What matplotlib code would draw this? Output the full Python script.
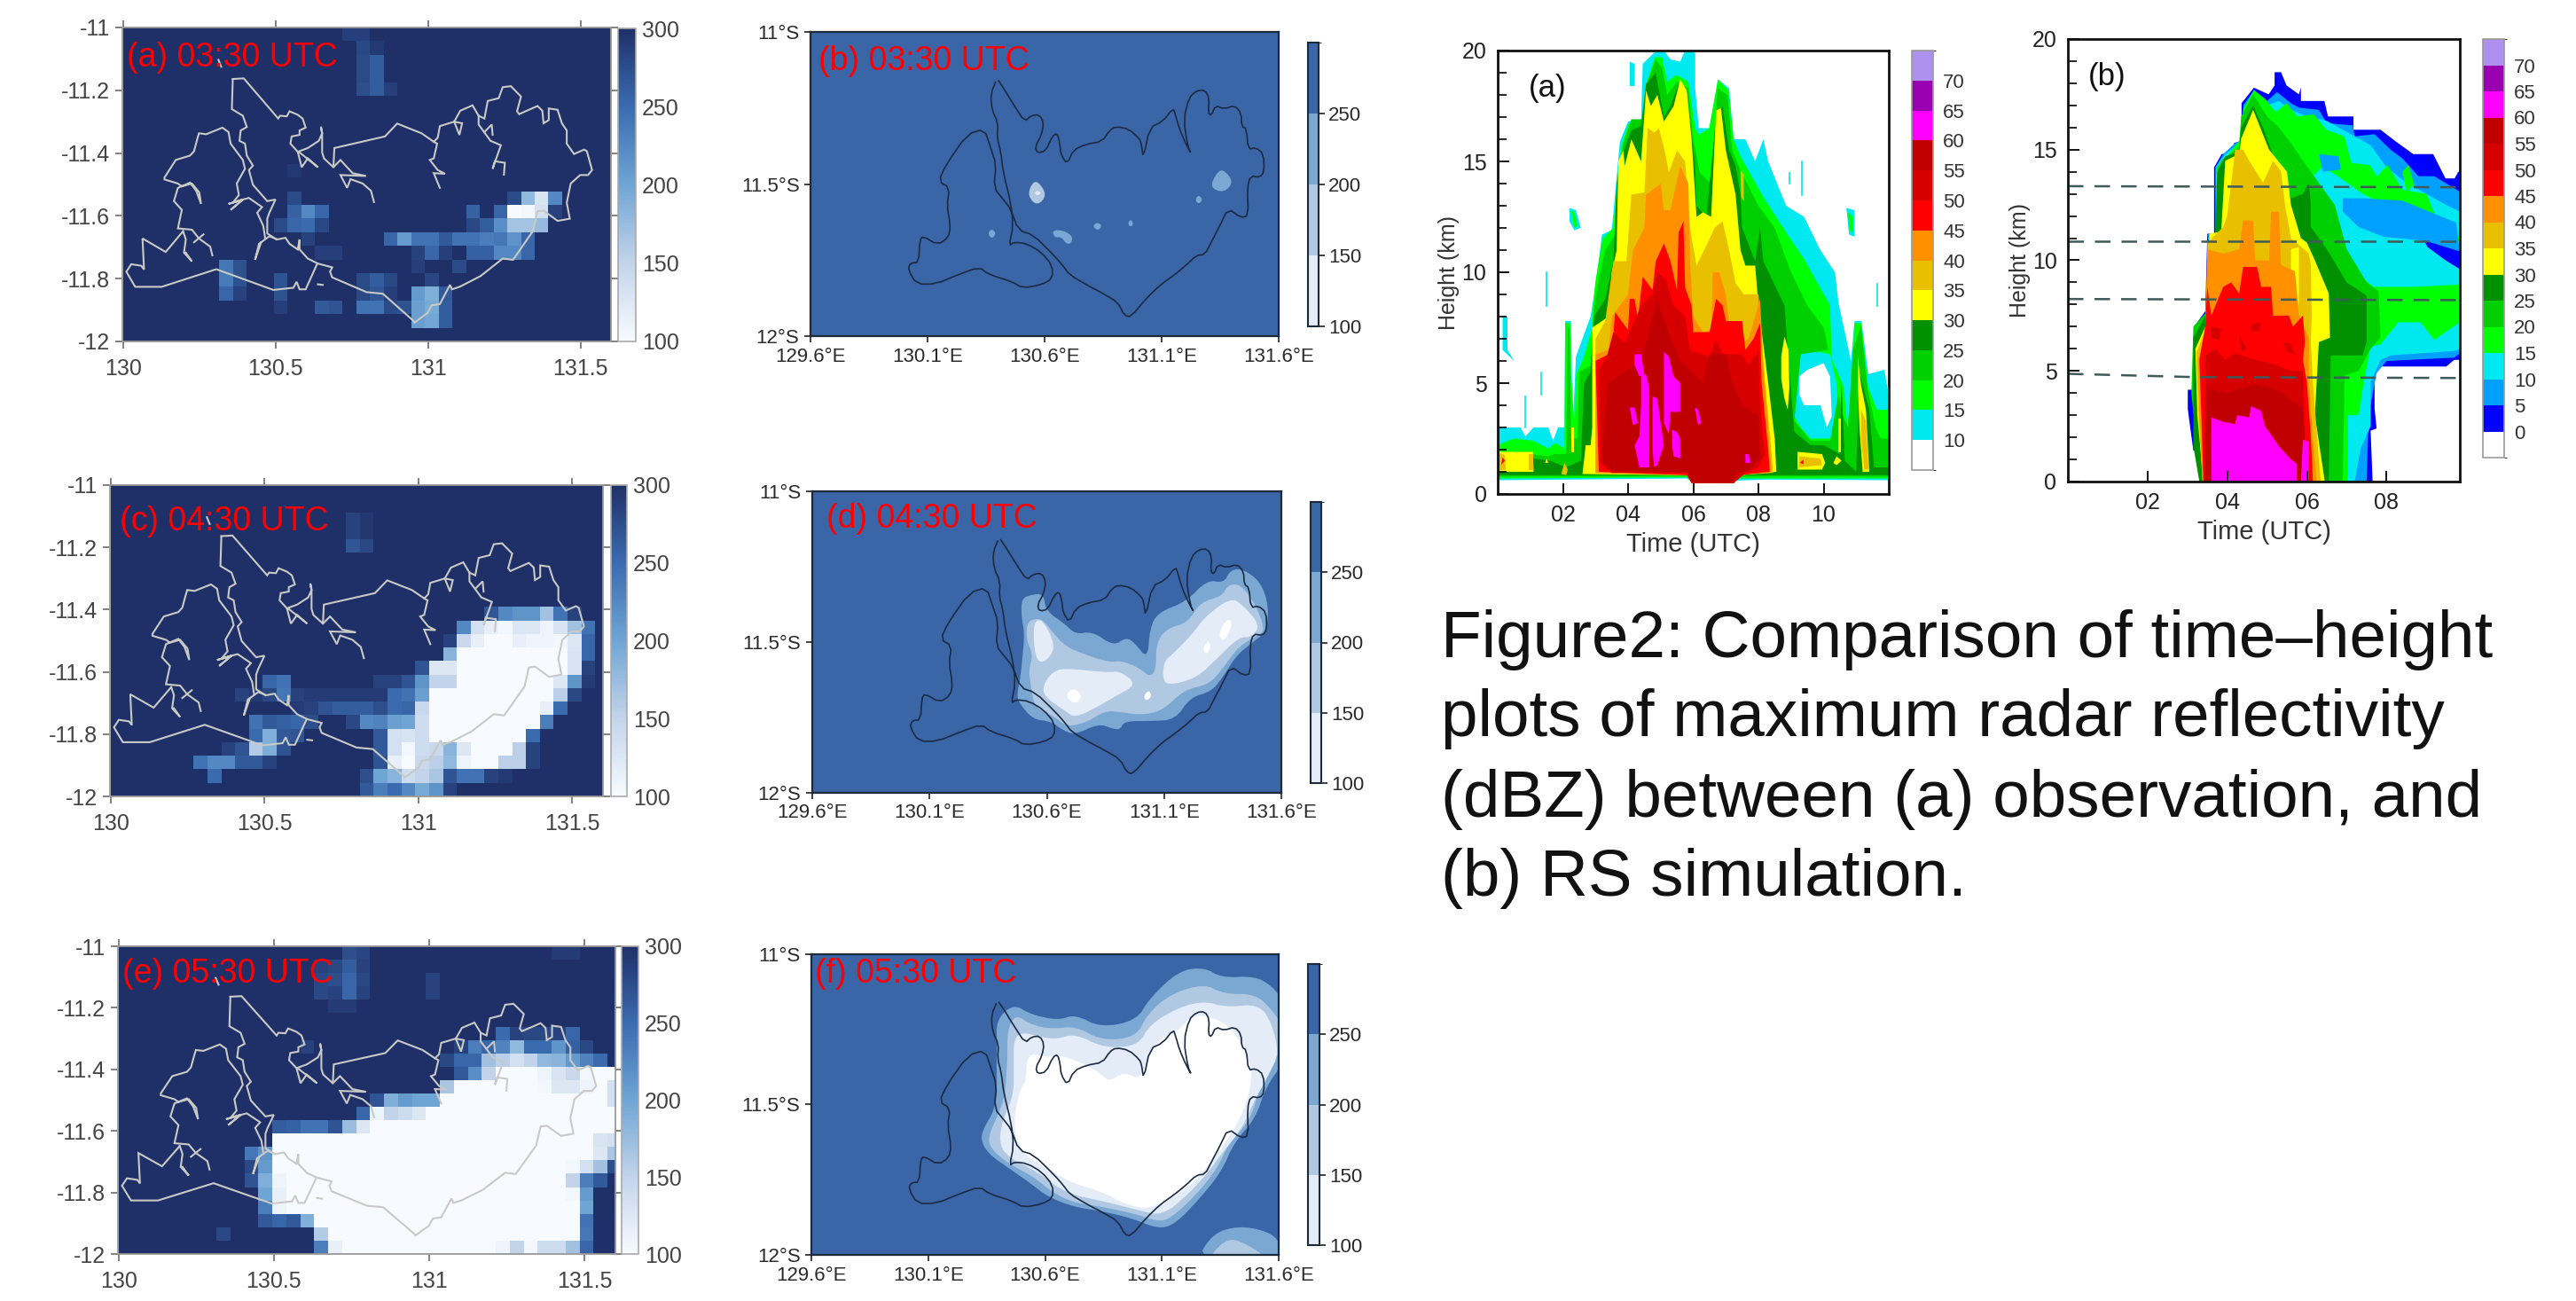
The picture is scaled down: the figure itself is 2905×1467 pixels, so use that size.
import numpy as np
import matplotlib
matplotlib.use('Agg')
from matplotlib import pyplot as plt
from matplotlib.colors import LinearSegmentedColormap, ListedColormap, BoundaryNorm, Normalize
from matplotlib.cm import ScalarMappable

W, H = 2905, 1467
SANS = ['Liberation Sans', 'DejaVu Sans']
NARROW = ['Liberation Sans Narrow', 'Liberation Sans', 'DejaVu Sans']

# ---------- observed brightness temperature cells, row: [(first col, values)] ----------
GRID_ROWS, GRID_COLS = 23, 36
OBS_0330 = {
    0: [(16, [288, 288])],
    1: [(17, [280, 292])],
    2: [(17, [278, 262])],
    3: [(17, [278, 262])],
    4: [(17, [275, 262, 288])],
    10: [(12, [292])],
    12: [(12, [278]), (28, [278, 180, 130, 225])],
    13: [(12, [258, 225, 255]), (25, [258]), (27, [255, 100, 105, 135, 285])],
    14: [(11, [278, 255, 250, 280]), (25, [280, 262, 220, 168, 168, 178])],
    15: [(13, [285]), (19, [255, 210, 245, 245, 265, 245, 245, 235, 240, 215, 255])],
    16: [(14, [288, 288]), (21, [285, 255, 288]), (25, [260, 260, 225, 225, 255])],
    17: [(7, [240, 272]), (21, [288]), (24, [278])],
    18: [(7, [238, 272]), (11, [270]), (17, [278, 262, 280]), (22, [282])],
    19: [(7, [255, 285]), (11, [272]), (17, [280, 268, 288]), (21, [210, 190, 265])],
    20: [(11, [288]), (14, [265, 270]), (17, [245, 245, 278, 272, 205, 195, 262])],
    21: [(21, [205, 198, 262])],
}
OBS_0430 = {
    2: [(17, [285, 293])],
    3: [(17, [285, 293])],
    4: [(17, [268, 280])],
    9: [(27, [268, 225, 215, 215, 170, 245, 285])],
    10: [(25, [225, 135, 115, 105, 125, 125, 110, 130, 170, 245])],
    11: [(24, [285, 145, 115, 100, 100, 115, 110, 110, 105, 125, 255])],
    12: [(24, [185, 100, 100, 100, 100, 100, 100, 100, 100, 130, 255])],
    13: [(22, [270, 125, 125, 100, 100, 100, 100, 100, 100, 100, 100, 130, 285])],
    14: [(11, [255, 245]), (19, [285, 285, 270, 215, 150, 150, 100, 100, 100, 100, 100, 100, 100, 125, 215, 290])],
    15: [(9, [285, 292, 280, 240, 285, 290, 290, 290, 290, 290, 290, 250, 245, 205]),
         (23, [100, 100, 100, 100, 100, 100, 100, 100, 100, 155, 280])],
    16: [(13, [290, 285, 270, 262, 262, 262, 275, 250, 255, 145]), (23, [100] * 8 + [115, 250])],
    17: [(10, [245, 265, 260, 255, 275]), (17, [280, 225, 230, 205, 200, 140]), (23, [100] * 8 + [235])],
    18: [(10, [250, 190, 265, 270]), (19, [265, 135, 130, 140]), (23, [100] * 7 + [250])],
    19: [(8, [285, 270, 160, 190, 270]), (19, [265, 135, 105, 140, 145, 185, 125, 100, 100, 100, 155, 285])],
    20: [(6, [245, 225, 225, 265, 265, 285]), (19, [270, 115, 100, 145, 155, 180, 110, 100, 100, 155, 155, 285])],
    21: [(7, [250]), (18, [275, 200, 185, 140, 150, 165, 270, 245, 245, 285, 292])],
    22: [(18, [265, 235, 250, 225, 195, 215, 285])],
}
OBS_0530 = {
    0: [(16, [275, 282]), (31, [290, 290])],
    1: [(14, [285, 280, 262, 285])],
    2: [(14, [280, 275, 255, 280]), (22, [285])],
    3: [(14, [280, 285, 255, 285]), (22, [285])],
    4: [(15, [290, 290])],
    6: [(27, [250, 285, 280, 280, 285, 255])],
    7: [(13, [285]), (24, [285, 235, 255, 230, 180, 250, 250, 215, 260, 280])],
    8: [(23, [280, 255, 255, 170, 155, 135, 150, 180, 185, 210, 230, 250])],
    9: [(24, [265, 220, 150, 100, 100, 100, 110, 130, 145, 105, 100, 100])],
    10: [(23, [165, 100, 100, 100, 100, 100, 100, 105, 125, 125, 110, 100, 135])],
    11: [(18, [270, 190, 210, 200, 200]), (23, [100] * 12 + [135])],
    12: [(17, [255, 110, 150, 140, 125]), (22, [100] * 14)],
    13: [(11, [262, 258, 245, 245, 270, 175, 125]), (18, [100] * 18)],
    14: [(11, [100] * 23 + [130, 135])],
    15: [(9, [240, 215]), (11, [100] * 23 + [125, 165])],
    16: [(9, [280, 210]), (11, [100] * 21 + [105, 135, 170, 275])],
    17: [(9, [270, 190, 110]), (12, [100] * 20 + [150, 235, 265])],
    18: [(10, [200, 115]), (12, [100] * 20 + [105, 210])],
    19: [(10, [235, 110]), (12, [100] * 21 + [200])],
    20: [(10, [265, 255, 265, 190]), (14, [100] * 19 + [245])],
    21: [(7, [280]), (14, [160]), (15, [100] * 18 + [240])],
    22: [(14, [235, 115]), (16, [100] * 11 + [110, 150, 105, 140, 140, 170, 255])],
}

# ---------- coast (lon, lat) ----------
COAST_GRAY = [
    [(130.360, -11.164), (130.396, -11.162), (130.509, -11.290), (130.515, -11.281), (130.537, -11.283),
     (130.546, -11.267), (130.573, -11.278), (130.589, -11.290), (130.599, -11.319), (130.579, -11.328),
     (130.579, -11.342), (130.553, -11.347), (130.549, -11.370), (130.573, -11.396), (130.606, -11.384),
     (130.642, -11.361), (130.653, -11.337), (130.649, -11.316), (130.653, -11.337), (130.653, -11.398),
     (130.659, -11.417), (130.690, -11.445), (130.693, -11.384), (130.859, -11.347), (130.899, -11.306),
     (130.979, -11.337), (131.019, -11.364), (131.032, -11.351), (131.039, -11.314), (131.086, -11.300),
     (131.106, -11.265), (131.146, -11.248), (131.166, -11.281), (131.185, -11.290), (131.196, -11.234),
     (131.232, -11.225), (131.245, -11.190), (131.272, -11.187), (131.305, -11.220), (131.292, -11.267),
     (131.299, -11.276), (131.359, -11.250), (131.375, -11.265), (131.379, -11.305), (131.396, -11.295),
     (131.396, -11.258), (131.425, -11.262), (131.439, -11.305), (131.455, -11.328), (131.455, -11.370),
     (131.479, -11.403), (131.512, -11.389), (131.521, -11.394), (131.538, -11.454), (131.525, -11.470),
     (131.499, -11.470), (131.468, -11.497), (131.455, -11.558), (131.465, -11.609), (131.425, -11.616),
     (131.379, -11.583), (131.359, -11.586), (131.345, -11.647), (131.279, -11.740), (131.245, -11.736),
     (131.172, -11.792), (131.106, -11.825), (131.079, -11.834), (131.072, -11.820), (131.039, -11.881),
     (131.012, -11.885), (130.999, -11.909), (130.979, -11.923), (130.956, -11.940), (130.952, -11.934),
     (130.852, -11.848), (130.799, -11.843), (130.686, -11.796), (130.679, -11.778), (130.686, -11.764),
     (130.639, -11.752), (130.606, -11.736), (130.579, -11.707), (130.579, -11.675), (130.573, -11.707),
     (130.546, -11.689), (130.533, -11.670), (130.506, -11.675), (130.480, -11.665), (130.446, -11.689),
     (130.433, -11.740), (130.453, -11.684)],
    [(130.360, -11.164), (130.357, -11.260), (130.393, -11.281), (130.406, -11.317), (130.386, -11.328),
     (130.382, -11.361), (130.400, -11.370), (130.406, -11.408), (130.426, -11.440), (130.413, -11.454),
     (130.426, -11.501), (130.473, -11.553), (130.500, -11.548), (130.480, -11.590), (130.473, -11.609),
     (130.473, -11.656), (130.503, -11.675)],
    [(130.466, -11.670), (130.460, -11.632), (130.440, -11.590), (130.456, -11.572), (130.413, -11.543),
     (130.393, -11.548), (130.346, -11.562), (130.393, -11.548), (130.353, -11.581), (130.393, -11.548),
     (130.360, -11.558), (130.380, -11.534), (130.373, -11.497), (130.400, -11.450), (130.393, -11.422),
     (130.353, -11.370), (130.346, -11.333), (130.326, -11.319), (130.273, -11.340), (130.249, -11.337),
     (130.242, -11.361), (130.233, -11.394), (130.220, -11.408), (130.173, -11.422), (130.136, -11.478),
     (130.136, -11.484), (130.180, -11.497), (130.193, -11.506), (130.226, -11.497), (130.250, -11.525),
     (130.256, -11.562), (130.240, -11.520), (130.220, -11.494), (130.180, -11.511), (130.167, -11.553),
     (130.193, -11.581), (130.180, -11.640), (130.226, -11.644), (130.249, -11.672), (130.286, -11.698),
     (130.293, -11.726)],
    [(130.197, -11.649), (130.140, -11.715), (130.064, -11.672), (130.069, -11.771), (130.060, -11.759),
     (130.027, -11.754), (130.011, -11.778), (130.040, -11.826), (130.127, -11.826), (130.306, -11.770),
     (130.493, -11.836), (130.559, -11.829), (130.569, -11.810), (130.579, -11.834), (130.599, -11.834),
     (130.637, -11.752)],
    [(130.197, -11.649), (130.206, -11.675), (130.200, -11.717), (130.226, -11.745), (130.206, -11.717)],
    [(130.233, -11.684), (130.264, -11.659)],
    [(131.019, -11.364), (131.030, -11.370), (131.019, -11.417), (131.006, -11.422), (131.032, -11.454),
     (131.056, -11.466), (131.019, -11.464), (131.039, -11.511)],
    [(131.086, -11.300), (131.112, -11.305), (131.103, -11.342), (131.086, -11.300)],
    [(131.166, -11.281), (131.166, -11.309), (131.205, -11.361), (131.239, -11.375), (131.212, -11.450),
     (131.219, -11.426), (131.252, -11.431), (131.249, -11.469)],
    [(131.185, -11.333), (131.209, -11.309), (131.212, -11.342)],
    [(130.690, -11.445), (130.713, -11.422), (130.753, -11.464), (130.797, -11.473), (130.713, -11.470),
     (130.735, -11.511), (130.746, -11.483), (130.786, -11.497), (130.813, -11.520), (130.823, -11.556)],
    [(130.573, -11.396), (130.586, -11.445), (130.606, -11.417), (130.639, -11.445), (130.579, -11.398)],
    [(130.313, -11.103), (130.322, -11.125)],
    [(130.639, -11.818), (130.655, -11.820)],
]
COAST_DARK = [
    (130.397, -11.153), (130.370, -11.203), (130.375, -11.256), (130.401, -11.299), (130.397, -11.348),
    (130.412, -11.391), (130.424, -11.464), (130.455, -11.560), (130.466, -11.638), (130.448, -11.703),
    (130.470, -11.691), (130.524, -11.696), (130.587, -11.725), (130.633, -11.768), (130.633, -11.811),
    (130.587, -11.831), (130.506, -11.842), (130.461, -11.821), (130.361, -11.797), (130.321, -11.773),
    (130.234, -11.797), (130.134, -11.829), (130.053, -11.829), (130.017, -11.782), (130.026, -11.760),
    (130.062, -11.758), (130.067, -11.686), (130.080, -11.671), (130.143, -11.700), (130.189, -11.676),
    (130.198, -11.638), (130.183, -11.570), (130.194, -11.512), (130.147, -11.491), (130.180, -11.435),
    (130.270, -11.336), (130.343, -11.319), (130.370, -11.382), (130.393, -11.435), (130.383, -11.512),
    (130.424, -11.551), (130.455, -11.582), (130.488, -11.652), (130.551, -11.667), (130.633, -11.729),
    (130.678, -11.768), (130.705, -11.797), (130.778, -11.831), (130.850, -11.860), (130.913, -11.889),
    (130.941, -11.932), (130.968, -11.937), (131.031, -11.879), (131.095, -11.831), (131.149, -11.802),
    (131.203, -11.768), (131.249, -11.734), (131.285, -11.732), (131.312, -11.691), (131.348, -11.638),
    (131.384, -11.580), (131.439, -11.611), (131.470, -11.604), (131.466, -11.512), (131.480, -11.473),
    (131.520, -11.478), (131.538, -11.459), (131.535, -11.401), (131.502, -11.380), (131.470, -11.386),
    (131.462, -11.319), (131.442, -11.309), (131.439, -11.266), (131.412, -11.242), (131.366, -11.253),
    (131.330, -11.242), (131.312, -11.275), (131.299, -11.266), (131.303, -11.217), (131.285, -11.191),
    (131.249, -11.193), (131.216, -11.217), (131.194, -11.290), (131.212, -11.377), (131.227, -11.401),
    (131.203, -11.367), (131.176, -11.319), (131.158, -11.270), (131.149, -11.251), (131.104, -11.295),
    (131.049, -11.314), (131.022, -11.415), (131.013, -11.367), (131.004, -11.350), (130.959, -11.319),
    (130.904, -11.311), (130.877, -11.324), (130.846, -11.360), (130.778, -11.369), (130.723, -11.388),
    (130.696, -11.435), (130.669, -11.401), (130.665, -11.367), (130.654, -11.333), (130.633, -11.343),
    (130.605, -11.391), (130.569, -11.398), (130.560, -11.377), (130.587, -11.338), (130.596, -11.299),
    (130.578, -11.272), (130.542, -11.275), (130.515, -11.295), (130.470, -11.242), (130.424, -11.184),
    (130.397, -11.153),
]

# ---------- simulated field, contour outlines per level (level, lon/lat) ----------
SIM_0330 = [
    (200, [(130.569, -11.488), (130.611, -11.536), (130.569, -11.572), (130.529, -11.541), (130.542, -11.502)]),
    (150, [(130.569, -11.522), (130.587, -11.529), (130.569, -11.539), (130.556, -11.529)]),
    (250, [(131.361, -11.449), (131.408, -11.493), (131.366, -11.529), (131.307, -11.512), (131.330, -11.469)]),
    (250, [(131.258, -11.536), (131.276, -11.551), (131.258, -11.567), (131.243, -11.551)]),
    (250, [(130.375, -11.647), (130.393, -11.662), (130.375, -11.681), (130.357, -11.662)]),
    (250, [(130.633, -11.652), (130.678, -11.652), (130.720, -11.671), (130.714, -11.696), (130.691, -11.696),
           (130.673, -11.674), (130.642, -11.676)]),
    (250, [(130.826, -11.625), (130.846, -11.638), (130.826, -11.654), (130.805, -11.638)]),
    (250, [(130.968, -11.616), (130.980, -11.630), (130.968, -11.642), (130.955, -11.630)]),
]
SIM_0430 = [
    (250, [(130.492, -11.357), (130.532, -11.343), (130.586, -11.340), (130.596, -11.396), (130.677, -11.440),
           (130.722, -11.474), (130.795, -11.465), (130.885, -11.513), (130.939, -11.484), (130.976, -11.504),
           (131.030, -11.557), (131.039, -11.455), (131.075, -11.401), (131.193, -11.367), (131.283, -11.294),
           (131.356, -11.304), (131.383, -11.260), (131.437, -11.258), (131.510, -11.299), (131.546, -11.377),
           (131.537, -11.465), (131.473, -11.504), (131.410, -11.543), (131.347, -11.620), (131.301, -11.664),
           (131.211, -11.684), (131.148, -11.757), (131.048, -11.762), (130.930, -11.762), (130.912, -11.791),
           (130.876, -11.786), (130.822, -11.771), (130.722, -11.806), (130.677, -11.796), (130.614, -11.762),
           (130.541, -11.757), (130.478, -11.698), (130.474, -11.669), (130.487, -11.620), (130.496, -11.552),
           (130.505, -11.474), (130.492, -11.416)]),
    (200, [(130.514, -11.445), (130.532, -11.426), (130.577, -11.421), (130.623, -11.465), (130.677, -11.513),
           (130.767, -11.543), (130.867, -11.567), (130.921, -11.562), (130.994, -11.586), (131.039, -11.616),
           (131.066, -11.591), (131.066, -11.504), (131.111, -11.455), (131.202, -11.435), (131.256, -11.367),
           (131.347, -11.348), (131.374, -11.309), (131.428, -11.309), (131.491, -11.377), (131.528, -11.455),
           (131.510, -11.474), (131.419, -11.513), (131.347, -11.591), (131.292, -11.640), (131.184, -11.659),
           (131.093, -11.728), (131.003, -11.742), (130.912, -11.732), (130.849, -11.728), (130.767, -11.767),
           (130.686, -11.781), (130.632, -11.747), (130.550, -11.718), (130.532, -11.650), (130.523, -11.591),
           (130.541, -11.543), (130.514, -11.494)]),
    (150, [(130.541, -11.445), (130.568, -11.421), (130.605, -11.455), (130.637, -11.523), (130.586, -11.572),
           (130.550, -11.552)]),
    (150, [(130.586, -11.640), (130.623, -11.601), (130.668, -11.586), (130.858, -11.601), (130.912, -11.596),
           (130.985, -11.640), (130.894, -11.679), (130.831, -11.708), (130.722, -11.752), (130.677, -11.728),
           (130.586, -11.679)]),
    (150, [(131.093, -11.611), (131.102, -11.562), (131.139, -11.538), (131.220, -11.474), (131.274, -11.416),
           (131.383, -11.353), (131.437, -11.377), (131.510, -11.445), (131.473, -11.484), (131.419, -11.484),
           (131.329, -11.552), (131.238, -11.620), (131.111, -11.645)]),
    (100, [(130.677, -11.679), (130.713, -11.650), (130.753, -11.679), (130.722, -11.708)]),
    (100, [(131.329, -11.474), (131.374, -11.416), (131.392, -11.445), (131.356, -11.499)]),
    (100, [(131.265, -11.518), (131.289, -11.494), (131.301, -11.518), (131.278, -11.543)]),
    (100, [(131.012, -11.679), (131.035, -11.659), (131.048, -11.679), (131.024, -11.696)]),
]
SIM_0530 = [
    (250, [(130.393, -11.215), (130.466, -11.166), (130.538, -11.200), (130.656, -11.220), (130.729, -11.200),
           (130.838, -11.244), (130.992, -11.220), (131.047, -11.147), (131.174, -11.054), (131.283, -11.044),
           (131.355, -11.078), (131.500, -11.073), (131.573, -11.107), (131.620, -11.156), (131.620, -11.361),
           (131.546, -11.440), (131.500, -11.547), (131.410, -11.625), (131.355, -11.723), (131.264, -11.811),
           (131.155, -11.899), (131.083, -11.913), (130.974, -11.879), (130.847, -11.855), (130.720, -11.840),
           (130.611, -11.806), (130.538, -11.762), (130.448, -11.713), (130.357, -11.664), (130.324, -11.616),
           (130.339, -11.576), (130.384, -11.518), (130.393, -11.449), (130.393, -11.303)]),
    (200, [(130.439, -11.249), (130.475, -11.200), (130.538, -11.234), (130.629, -11.249), (130.729, -11.239),
           (130.847, -11.288), (130.992, -11.274), (131.037, -11.200), (131.137, -11.132), (131.283, -11.098),
           (131.364, -11.132), (131.500, -11.132), (131.573, -11.186), (131.620, -11.244), (131.620, -11.303),
           (131.518, -11.440), (131.482, -11.547), (131.382, -11.635), (131.337, -11.713), (131.246, -11.801),
           (131.137, -11.879), (131.083, -11.889), (130.992, -11.865), (130.847, -11.840), (130.720, -11.826),
           (130.629, -11.791), (130.557, -11.743), (130.439, -11.694), (130.366, -11.645), (130.357, -11.606),
           (130.402, -11.528), (130.429, -11.469), (130.439, -11.352)]),
    (150, [(130.466, -11.283), (130.502, -11.259), (130.575, -11.274), (130.647, -11.283), (130.729, -11.264),
           (130.856, -11.313), (131.001, -11.303), (131.047, -11.234), (131.174, -11.176), (131.283, -11.156),
           (131.373, -11.176), (131.518, -11.166), (131.573, -11.234), (131.600, -11.332), (131.564, -11.391),
           (131.482, -11.508), (131.446, -11.576), (131.355, -11.664), (131.301, -11.723), (131.210, -11.801),
           (131.101, -11.870), (130.992, -11.850), (130.847, -11.821), (130.720, -11.801), (130.647, -11.772),
           (130.566, -11.723), (130.439, -11.674), (130.402, -11.625), (130.420, -11.547), (130.466, -11.469),
           (130.466, -11.371)]),
    (100, [(130.520, -11.352), (130.547, -11.330), (130.593, -11.342), (130.665, -11.337), (130.729, -11.352),
           (130.829, -11.391), (130.874, -11.425), (130.938, -11.391), (131.010, -11.420), (131.065, -11.293),
           (131.174, -11.254), (131.237, -11.195), (131.373, -11.225), (131.446, -11.303), (131.482, -11.371),
           (131.482, -11.440), (131.446, -11.528), (131.391, -11.606), (131.301, -11.703), (131.192, -11.791),
           (131.047, -11.850), (130.938, -11.830), (130.847, -11.791), (130.720, -11.762), (130.629, -11.723),
           (130.484, -11.655), (130.466, -11.547), (130.493, -11.449), (130.520, -11.420)]),
    (250, [(131.246, -12.02), (131.319, -11.928), (131.428, -11.904), (131.537, -11.918), (131.600, -11.948),
           (131.640, -12.03)]),
    (200, [(131.292, -12.02), (131.364, -11.953), (131.428, -11.948), (131.575, -12.02)]),
]
SIM_COLORS = {100: '#ffffff', 150: '#e3ecf7', 200: '#b0c8e2', 250: '#7aa8d2', 300: '#3a66a8'}

# ---------- time-height reflectivity, painter's order (dBZ band, time/height outline) ----------
DBZ_COLORS = {-5: '#ffffff', 0: '#0000ff', 5: '#00a0ff', 10: '#00e8f0', 15: '#00ff00', 20: '#00d000', 25: '#009000',
              30: '#ffff00', 35: '#e8c000', 40: '#ff9000', 45: '#ff0000', 50: '#d60000', 55: '#c00000',
              60: '#ff00ff', 65: '#9900b0', 70: '#ad90f0'}
DIP = [(7.4, 0.85), (7.25, 0.5), (5.95, 0.5), (5.8, 0.85)]
OBS_TH = [
    (10, [(0, 3.0), (0.7, 3.0), (0.85, 2.6), (1.1, 3.0), (1.55, 3.0), (1.7, 2.4), (1.85, 3.0), (2.05, 3.0), (2.07, 7.8),
          (2.25, 7.8), (2.3, 3.0), (2.4, 6.2), (2.85, 8.0), (3.0, 9.4), (3.2, 11.7), (3.5, 11.9), (3.75, 15.9),
          (4.0, 16.8), (4.4, 16.9), (4.45, 19.4), (4.8, 19.9), (5.1, 20), (5.3, 19.6), (5.6, 19.5), (5.75, 20),
          (6.06, 19.9), (6.06, 18.3), (6.17, 16.5), (6.5, 16.5), (6.76, 18.7), (7.1, 18.3), (7.24, 16), (7.6, 16),
          (7.9, 15), (8.15, 16), (8.3, 15), (8.85, 13), (9.4, 12.5), (9.9, 11), (10.35, 10), (10.46, 8.6), (10.84, 6),
          (10.95, 7.8), (11.16, 7.8), (11.37, 5.4), (11.86, 5.6), (12, 4.5), (12, 0.62), (8.2, 0.65), (7.3, 0.6),
          (7.2, 0.5), (6, 0.5), (5.8, 0.7), (0, 0.62)]),
    (15, [(0, 2.2), (0.5, 2.5), (1.1, 2.4), (1.55, 2.05), (1.77, 2.3), (2.05, 2.05), (2.07, 7.7), (2.22, 7.7), (2.25, 5.4),
          (2.36, 3.0), (2.41, 5.4), (2.63, 6.1), (2.9, 7.5), (2.93, 8.6), (3.0, 9.6), (3.22, 11.5), (3.54, 12), (3.7, 14.3),
          (3.8, 15.7), (4.02, 16.7), (4.45, 16.8), (4.6, 18.7), (4.83, 19.7), (5.04, 19.7), (5.2, 18.6), (5.5, 18.9),
          (5.85, 18.6), (6.06, 16.5), (6.17, 16.2), (6.49, 16.5), (6.76, 18.7), (7.08, 18.2), (7.24, 16), (7.46, 15.2),
          (8.15, 13.4), (8.85, 11.8), (9.4, 10.6), (10.2, 8.5), (10.25, 6.1), (10.46, 5.4), (10.62, 4.8), (10.73, 3.0),
          (10.89, 5.4), (10.94, 7.7), (11.16, 7.7), (11.37, 4.8), (11.64, 3.8), (12, 3.8), (12, 0.7), (7.3, 0.7), (7.2, 0.5),
          (6, 0.5), (5.8, 0.75), (0, 0.7)]),
    (10, [(9.3, 6.4), (9.9, 6.4), (10.2, 6.3), (10.4, 5), (10.45, 3), (10.2, 2.5), (9.6, 2.5), (9.3, 3), (9.1, 3.5),
          (9.2, 5)]),
    (-5, [(9.25, 5.3), (9.5, 5.6), (10.0, 5.9), (10.2, 5.3), (10.25, 3.5), (10.1, 3.0), (9.9, 4.0), (9.4, 4.0),
          (9.25, 4.5)]),
    (20, [(0, 1.9), (1.0, 1.8), (1.55, 1.7), (1.75, 1.8), (2.1, 1.8), (2.15, 7.5), (2.2, 7.5), (2.25, 2.5), (2.45, 2.5),
          (2.5, 5.5), (2.85, 5.8), (2.95, 8.3), (3.1, 9.7), (3.3, 11), (3.6, 11.7), (3.7, 14.5), (3.85, 15.8), (4.1, 16.9),
          (4.45, 16.9), (4.6, 18.6), (4.85, 19.6), (5.05, 19.2), (5.2, 18), (5.5, 18.6), (5.85, 18.3), (6.0, 16), (6.2, 14.5),
          (6.55, 14), (6.75, 18.3), (7.05, 18), (7.2, 15.5), (7.45, 14.6), (8, 13), (8.5, 12), (9.0, 10), (9.5, 8.5), (10, 7.5),
          (10.15, 6.5), (9.3, 6.3), (9.1, 3.3), (9.6, 2.4), (10.2, 2.4), (10.45, 4.5), (10.6, 3.5), (10.75, 3.0), (10.9, 6.5),
          (11.15, 7.6), (11.35, 4.7), (11.6, 3), (11.75, 2.5), (12, 2.5), (12, 0.78), (7.3, 0.78), (7.2, 0.5), (6, 0.5),
          (5.8, 0.8), (0, 0.78)]),
    (25, [(0, 1.3), (1.1, 1.6), (1.6, 1.5), (2.1, 1.2), (2.25, 1.3), (2.55, 1.5), (2.65, 5), (2.85, 5.5), (2.95, 8),
          (3.3, 8.8), (3.55, 10.5), (3.65, 14), (3.75, 15), (4.1, 16.4), (4.4, 16.6), (4.55, 18.5), (4.85, 19), (5.1, 17),
          (5.3, 17.5), (5.55, 18.5), (5.8, 18), (6.05, 15), (6.1, 13), (6.4, 12.5), (6.7, 17), (6.9, 17.5), (7.1, 15.5),
          (7.3, 14.8), (7.45, 13.5), (7.5, 12), (7.9, 10.5), (8.05, 12), (8.15, 10.5), (8.8, 8.5), (8.9, 6.5), (9.1, 2.8),
          (9.6, 2.2), (10, 2.2), (10.5, 1.8), (10.55, 5), (10.65, 1.5), (11, 1.0), (11.1, 5.5), (11.4, 3.8), (11.55, 1.2),
          (12, 1.2), (12, 0.85), (7.3, 0.85), (7.2, 0.5), (6, 0.5), (5.8, 0.85), (0, 0.85)]),
    (30, [(2.6, 0.9), (2.7, 2.2), (2.85, 2.2), (2.9, 3), (2.9, 7.5), (3.4, 8.0), (3.5, 10), (3.65, 11), (3.7, 15), (3.85, 15.5),
          (3.9, 14.8), (4.1, 16), (4.4, 15), (4.55, 18.2), (4.7, 17.5), (4.9, 18), (5.1, 16.8), (5.4, 17.5), (5.6, 18.7),
          (5.8, 18.2), (5.95, 16), (6.1, 12.5), (6.3, 12.7), (6.55, 12.5), (6.7, 17.3), (6.85, 17.4), (7.0, 15.5), (7.3, 13.5),
          (7.45, 11), (7.6, 10.3), (7.9, 10.3), (8.0, 8.5), (8.3, 5), (8.5, 2.5), (8.55, 1.0)] + DIP),
    (35, [(3.0, 7), (3.3, 7.8), (3.55, 10.5), (3.95, 10.5), (4.1, 13.5), (4.5, 13.6), (4.6, 16.5), (4.8, 16.3), (4.95, 16.5),
          (5.15, 15.3), (5.25, 14.5), (5.5, 15.5), (5.75, 15), (5.9, 12), (6.1, 10.3), (6.5, 11.5), (6.65, 12), (6.9, 12.3),
          (7.1, 11), (7.3, 9.5), (7.55, 9), (8.0, 9.0), (8.1, 6.5), (8.4, 2), (8.45, 0.95)] + DIP + [(3.0, 0.95)]),
    (40, [(3.0, 6.3), (3.4, 6.5), (3.5, 8), (4.0, 9), (4.15, 11), (4.5, 12), (4.55, 13.5), (5.0, 14), (5.1, 12.8), (5.3, 12.8),
          (5.6, 14.8), (5.85, 14), (5.9, 10.5), (6.0, 8), (6.3, 7.3), (6.55, 7.4), (6.6, 10), (6.8, 10), (7.0, 9), (7.1, 7.8),
          (7.5, 6.8), (7.7, 7), (8.05, 8.8), (8.15, 6), (8.35, 2), (8.4, 1)] + DIP + [(3.0, 0.95)]),
    (45, [(3.0, 6), (3.4, 6.3), (3.55, 7.2), (3.6, 8.2), (4, 7.4), (4.05, 8.8), (4.2, 8.8), (4.3, 7.9), (4.45, 9.8), (4.75, 9.2),
          (4.85, 10.5), (5.1, 11.3), (5.3, 10.5), (5.5, 9.2), (5.55, 11.8), (5.7, 12.3), (5.75, 9.3), (5.95, 8.5), (6.0, 7.3),
          (6.5, 7.3), (6.7, 8.8), (6.9, 8.5), (7, 7.8), (7.5, 7.8), (7.6, 6.5), (7.85, 7), (8.05, 7.7), (8.1, 5), (8.3, 2),
          (8.35, 1)] + DIP + [(3.1, 1.0)]),
    (50, [(3.1, 5.6), (3.35, 6.2), (3.55, 7.3), (3.9, 6.8), (4.4, 8.5), (4.75, 9.0), (4.9, 10), (5.15, 9.7), (5.4, 8.5),
          (5.75, 8), (5.9, 6.5), (6.5, 6.2), (6.7, 7.0), (6.9, 6.3), (7.5, 6.3), (7.7, 5.8), (8.0, 6.5), (8.05, 4), (8.2, 1.8),
          (8.0, 1.2), (7.6, 0.95), (7.25, 0.5), (5.95, 0.5), (5.8, 0.95), (3.5, 0.95), (3.15, 1.4)]),
    (55, [(3.2, 1.5), (3.3, 3.5), (3.4, 5), (3.9, 5.5), (4.4, 6), (4.9, 8.8), (5.3, 7), (5.6, 6), (6.3, 5), (6.5, 6.3), (7, 6.3),
          (7.2, 5), (7.5, 4), (8, 3.5), (8.05, 1.6), (7.7, 1.1), (7.3, 0.9), (7.25, 0.5), (5.95, 0.5), (5.8, 1.0), (3.5, 1.05)]),
    (60, [(4.2, 6.3), (4.4, 6.3), (4.5, 5.4), (4.35, 5.3), (4.2, 5.8)]),
    (60, [(4.4, 5.4), (4.55, 5.4), (4.65, 4.8), (4.65, 1.2), (4.35, 1.2), (4.2, 2.2), (4.35, 2.6), (4.4, 4)]),
    (60, [(4.05, 3.9), (4.2, 3.9), (4.3, 3.2), (4.15, 3.1)]),
    (60, [(4.75, 4.4), (4.9, 4.3), (5.0, 3.2), (5.1, 2.2), (4.9, 1.3), (4.8, 1.2), (4.75, 2)]),
    (60, [(5.1, 6.4), (5.25, 6.2), (5.4, 5.3), (5.6, 5.0), (5.6, 3.7), (5.3, 3.7), (5.25, 2.7), (5.1, 3.2), (5.1, 4.5)]),
    (60, [(5.35, 2.9), (5.5, 2.8), (5.6, 2.5), (5.6, 1.6), (5.4, 1.7), (5.35, 2.2)]),
    (60, [(6.05, 3.9), (6.15, 3.8), (6.25, 3.2), (6.15, 3.1)]),
    (60, [(7.6, 1.8), (7.7, 1.8), (7.75, 1.4), (7.6, 1.4)]),
    # low blobs and isolated echoes
    (30, [(0.05, 1.0), (0.05, 1.9), (1.08, 1.9), (1.1, 1.0)]),
    (35, [(0.05, 1.05), (0.05, 1.85), (0.22, 1.75), (0.25, 1.1)]),
    (35, [(0.95, 1.1), (0.95, 1.8), (1.08, 1.8), (1.08, 1.1)]),
    (45, [(0.1, 1.3), (0.15, 1.65), (0.22, 1.5)]),
    (30, [(9.2, 1.1), (9.2, 1.9), (9.95, 1.8), (10.05, 1.4), (9.95, 1.1)]),
    (35, [(9.25, 1.2), (9.25, 1.7), (9.9, 1.6), (9.95, 1.3)]),
    (45, [(9.27, 1.4), (9.38, 1.55), (9.38, 1.35)]),
    (30, [(10.3, 1.4), (10.4, 1.7), (10.55, 1.5), (10.4, 1.3)]),
    (30, [(11.05, 6.2), (11.15, 4.9), (11.3, 3.8), (11.4, 1.0), (11.2, 1.0), (11.1, 3), (11.05, 5)]),
    (35, [(11.15, 3.8), (11.3, 3.3), (11.38, 1.1), (11.25, 1.1), (11.15, 2.5)]),
    (30, [(10.45, 1.9), (10.45, 3.4), (10.52, 3.4), (10.52, 1.9)]),
    (30, [(2.27, 1.9), (2.27, 3.0), (2.33, 3.0), (2.33, 1.9)]),
    (35, [(1.95, 0.9), (2.05, 1.4), (2.15, 1.1), (2.1, 0.85)]),
    (30, [(1.45, 1.4), (1.5, 1.6), (1.55, 1.4)]),
    (30, [(8.7, 6.2), (8.8, 7.1), (8.92, 6.5), (8.95, 4.8), (8.9, 3.8), (8.8, 4.3), (8.7, 5.2)]),
    (35, [(7.45, 14.6), (7.55, 14.4), (7.55, 13.2), (7.47, 13.4)]),
    (10, [(2.2, 12.9), (2.4, 12.8), (2.55, 12), (2.35, 11.9), (2.2, 12.3)]),
    (15, [(2.25, 12.8), (2.35, 12.7), (2.45, 12.1), (2.35, 12.0)]),
    (10, [(10.7, 12.9), (10.95, 12.8), (10.95, 11.6), (10.78, 11.7)]),
    (15, [(10.75, 12.7), (10.9, 12.5), (10.9, 11.8), (10.8, 11.9)]),
    (10, [(4.05, 19.5), (4.2, 19.4), (4.2, 18.4), (4.05, 18.4)]),
    (10, [(0.15, 8), (0.3, 8), (0.3, 6.5), (0.5, 6.0), (0.15, 6.5)]),
]
OBS_TH_STREAKS = [(1.5, 8.5, 10.0), (1.34, 4.5, 5.5), (0.85, 3.0, 4.4), (9.33, 13.5, 15.0), (8.95, 14.0, 14.5),
                  (11.64, 8.5, 9.5)]

SIM_TH = [
    (0, [(3.01, 3.26), (3.01, 4.15), (3.17, 4.15), (3.17, 7.0), (3.45, 7.7), (3.5, 11.2), (3.67, 11.2), (3.67, 14.2),
         (3.86, 14.8), (4.17, 14.9), (4.17, 15.3), (4.36, 15.4), (4.36, 17.1), (4.67, 17.8), (5.04, 17.5), (5.19, 17.9),
         (5.19, 18.5), (5.35, 18.5), (5.49, 17.9), (5.8, 17.5), (5.85, 17.8), (5.85, 17.2), (6.44, 17.2), (6.53, 16.5),
         (7.17, 16.5), (7.17, 15.9), (7.85, 15.9), (8.21, 15.4), (8.67, 14.8), (9.17, 14.8), (9.48, 13.7), (9.71, 13.7),
         (9.8, 14), (9.84, 14), (9.84, 5.5), (9.7, 5.5), (9.5, 5.2), (7.85, 5.2), (7.7, 5), (7.7, 3.3), (7.75, 2.4), (7.6, 2.3),
         (7.65, 0), (3.35, 0), (3.25, 1.4), (3.15, 1.4)]),
    (5, [(3.18, 4.1), (3.17, 7), (3.5, 7.7), (3.52, 11.2), (3.7, 11.2), (3.7, 14.2), (3.9, 14.8), (4.2, 15.3), (4.4, 15.4),
         (4.4, 17), (4.68, 17.7), (4.85, 17.2), (5.0, 17.2), (5.25, 17.6), (5.6, 17.1), (5.8, 16.9), (6.3, 16.8), (6.5, 16.2),
         (7.15, 16.1), (7.2, 15.6), (7.7, 15.7), (8.1, 15), (8.4, 14.6), (8.8, 13.8), (9.2, 13.8), (9.84, 13.1), (9.84, 5.8),
         (9.7, 5.6), (8, 5.45), (7.75, 4.9), (7.55, 3.0), (7.5, 0), (3.35, 0), (3.22, 1.4)]),
    (10, [(3.2, 4.1), (3.2, 6.9), (3.5, 7.6), (3.55, 11), (3.72, 11.2), (3.72, 14.2), (3.95, 14.8), (4.25, 15.2), (4.4, 15.3),
          (4.42, 16.9), (4.68, 17.6), (5.0, 17), (5.3, 17.2), (5.6, 16.8), (6, 16.5), (6.5, 16.3), (7.0, 15.8), (7.6, 15.2),
          (8, 14.2), (8.5, 13.5), (9, 13), (9.5, 12.5), (9.84, 12.2), (9.84, 6.0), (9.7, 5.9), (8.1, 5.7), (7.85, 5.5),
          (7.6, 4.5), (7.6, 2.5), (7.35, 1.5), (7.2, 0), (3.35, 0), (3.22, 1.4)]),
    (15, [(3.3, 4.5), (3.75, 11.2), (3.75, 14.2), (4.0, 14.7), (4.3, 15.4), (4.4, 16.8), (4.67, 17.7), (4.95, 17.3), (5.22, 16.7),
          (5.49, 17.1), (5.76, 16.5), (6.17, 16.6), (6.49, 15.9), (6.94, 15.6), (7.12, 14.4), (7.58, 14.3), (7.76, 13.8),
          (8.03, 14.3), (8.39, 13.2), (9.0, 13), (9.3, 11.7), (9.75, 11.2), (9.84, 11.0), (9.84, 10.85), (9.1, 11.2), (8.39, 12.4),
          (7.85, 12.6), (7.4, 13.0), (6.7, 13.9), (6.38, 14.2), (6.03, 13.6), (6.08, 11.7), (5.5, 5), (5.5, 0), (3.4, 0)]),
    (15, [(6.03, 11.7), (7.12, 9.6), (7.67, 8.8), (8.67, 8.8), (9.84, 8.9), (9.84, 7.2), (9.2, 6.4), (8.85, 7.2), (8.3, 7.2),
          (7.85, 6.2), (7.6, 6.1), (7.44, 4.6), (7.3, 3.0), (7.03, 3.0), (7.03, 0), (6.49, 0), (6.0, 5)]),
    (5, [(6.9, 12.8), (7.4, 12.8), (8.39, 12.7), (9.75, 11.7), (9.84, 10.3), (8.85, 10.9), (7.94, 11.06), (7.3, 11.5),
         (6.9, 12.2)]),
    (0, [(8.94, 10.9), (9.84, 10.4), (9.84, 9.6), (9.48, 10), (9.03, 10.6)]),
    (5, [(6.3, 14.8), (6.8, 14.7), (6.85, 14.1), (6.4, 14.0)]),
    (5, [(7.9, 15.0), (8.1, 15.0), (8.2, 14.4), (8.0, 14.3)]),
    (15, [(8.4, 14.0), (8.55, 14.3), (8.7, 13.4), (8.5, 13.1)]),
    (20, [(3.25, 1.4), (3.1, 4), (3.15, 7), (3.45, 7.6), (3.55, 11), (3.75, 11.2), (3.75, 14.2), (3.9, 14.6), (4.3, 15.1),
          (4.35, 16.5), (4.65, 17.5), (5, 16.5), (5.3, 16), (5.6, 15.3), (5.9, 14.5), (6.1, 14), (6.3, 13.5), (6.7, 12.5),
          (7.0, 10.5), (7.5, 9), (7.8, 8.6), (7.85, 6.5), (7.6, 6.0), (7.3, 5), (6.95, 4.8), (6.9, 0), (6.6, 0), (3.35, 0)]),
    (25, [(3.3, 0), (3.15, 1.6), (3.15, 6.5), (3.45, 7.5), (3.55, 11), (3.7, 11.2), (3.75, 14), (3.95, 14.7), (4.3, 14.9), (4.35, 16),
          (4.65, 17), (4.9, 16), (5.2, 14.5), (5.4, 13.8), (5.6, 12.8), (5.9, 13), (6.05, 13.5), (6.1, 12.5), (6.1, 11.5), (6.5, 10.5),
          (7.0, 9), (7.5, 8.4), (7.5, 6.3), (7.4, 5.7), (6.6, 5.7), (6.55, 0)]),
    (30, [(3.4, 0), (3.25, 3), (3.2, 6), (3.5, 7.2), (3.55, 11.2), (3.85, 11.3), (3.95, 14.5), (4.3, 14.8), (4.35, 15.5), (4.65, 16.8),
          (5.05, 15), (5.5, 14), (5.6, 12.5), (5.85, 11), (6, 10.8), (6.2, 10), (6.55, 8.5), (6.58, 6.5), (6.3, 6.3), (6.2, 3),
          (6.45, 0)]),
    (35, [(3.38, 0), (3.28, 3), (3.22, 5.8), (3.48, 7), (3.5, 10.8), (3.9, 11.5), (4, 12), (4.2, 15), (4.4, 15), (4.55, 14.5),
          (4.9, 13.5), (5.15, 14.5), (5.35, 14), (5.45, 12.5), (5.6, 11), (6.05, 10.3), (6.1, 9.8), (6.12, 7.5), (6.1, 6.3),
          (6.15, 4.5), (6.3, 1), (6.35, 0)]),
    (30, [(5.6, 10.5), (5.8, 10.6), (5.8, 8), (5.6, 8)]),
    (40, [(3.38, 0), (3.3, 3), (3.27, 5.5), (3.45, 7), (3.5, 10.5), (3.9, 10.3), (4.3, 10.5), (4.4, 11.8), (4.65, 11.8), (4.7, 10),
          (5.05, 10), (5.1, 12.2), (5.3, 12.2), (5.35, 9.8), (5.7, 9.5), (5.8, 7.5), (6.05, 6.5), (6.05, 4.5), (6.15, 2), (6.25, 0)]),
    (45, [(3.4, 0), (3.35, 3), (3.3, 5.5), (3.45, 7), (3.5, 8.8), (3.6, 7.5), (3.9, 8.8), (4.1, 9), (4.3, 8.5), (4.4, 9.7), (4.75, 9.7),
          (4.85, 8.8), (5.1, 8.8), (5.15, 7.5), (5.55, 7.5), (5.65, 7), (5.9, 7.5), (5.95, 6.3), (5.9, 5.5), (6, 4.5), (6.1, 2), (6.15, 0)]),
    (50, [(3.43, 0), (3.45, 5.7), (3.7, 6), (3.95, 5.5), (4.2, 5.8), (4.7, 5.5), (5.2, 5.3), (5.6, 5), (5.9, 5), (5.95, 2), (6.05, 0)]),
    (50, [(3.6, 7.0), (3.85, 6.9), (3.8, 6.4), (3.6, 6.5)]),
    (50, [(4.3, 6.6), (4.5, 6.0), (4.35, 5.9)]),
    (50, [(4.6, 7.1), (4.85, 7.2), (4.8, 6.8), (4.6, 6.8)]),
    (50, [(5.4, 6.3), (5.6, 6.2), (5.7, 5.7), (5.5, 5.9)]),
    (55, [(3.45, 0), (3.5, 4.2), (4, 4), (4.7, 4.4), (5.3, 4.1), (5.9, 3.3), (6, 0)]),
    (60, [(3.6, 0), (3.6, 2.9), (3.9, 2.7), (4.2, 2.6), (4.25, 3), (4.55, 2.9), (4.6, 3.4), (4.85, 3.2), (4.95, 2.5), (5.3, 1.6),
          (5.6, 1.0), (5.75, 0.8), (5.75, 0)]),
    (60, [(5.85, 0), (5.9, 1.9), (6.05, 1.8), (6.05, 0)]),
]
SIM_DASHES = [
    ([0.0, 9.84], [13.35, 13.3]),
    ([0.0, 9.84], [10.85, 10.85]),
    ([0.0, 9.84], [8.25, 8.2]),
    ([0.0, 3.2, 9.84], [4.87, 4.72, 4.68]),
]

CAPTION = [
    'Figure2: Comparison of time\u2013height',
    'plots of maximum radar reflectivity',
    '(dBZ) between (a) observation, and',
    '(b) RS simulation.',
]
OBS_LON_TICKS = [130, 130.5, 131, 131.5]
OBS_LON_LABELS = ['130', '130.5', '131', '131.5']
OBS_LAT_TICKS = [-11, -11.2, -11.4, -11.6, -11.8, -12]
OBS_LAT_LABELS = ['-11', '-11.2', '-11.4', '-11.6', '-11.8', '-12']
SIM_LON_TICKS = [129.6, 130.1, 130.6, 131.1, 131.6]
SIM_LON_LABELS = ['129.6\u00b0E', '130.1\u00b0E', '130.6\u00b0E', '131.1\u00b0E', '131.6\u00b0E']
SIM_LAT_TICKS = [-11, -11.5, -12]
SIM_LAT_LABELS = ['11\u00b0S', '11.5\u00b0S', '12\u00b0S']
TIME_TICKS = [2, 4, 6, 8, 10]
TIME_LABELS = ['02', '04', '06', '08', '10']
DBZ_LABELS_OBS = list(range(10, 75, 5))
DBZ_LABELS_SIM = list(range(0, 75, 5))

fig = plt.figure(figsize=(W / 100, H / 100), dpi=100, facecolor='white')
plt.rcParams['font.family'] = SANS


def px_axes(x0, y0, x1, y1):
    return fig.add_axes([x0 / W, 1 - y1 / H, (x1 - x0) / W, (y1 - y0) / H])


def px_text(x, y, s, **kw):
    return fig.text(x / W, 1 - y / H, s, **kw)


def build_grid(rows):
    grid = np.full((GRID_ROWS, GRID_COLS), 300.0)
    for r, runs in rows.items():
        for start, values in runs:
            n = min(len(values), GRID_COLS - start)
            grid[r, start:start + n] = values[:n]
    return grid


def round_off(pts, closed=True, passes=2):
    # corner cutting so the traced outlines look like contour lines
    pts = np.asarray(pts, dtype=float)
    for _ in range(passes):
        nxt = np.roll(pts, -1, axis=0) if closed else pts[1:]
        cur = pts if closed else pts[:-1]
        q = 0.75 * cur + 0.25 * nxt
        r = 0.25 * cur + 0.75 * nxt
        pts = np.empty((len(cur) * 2, 2))
        pts[0::2] = q
        pts[1::2] = r
    return pts


blues = LinearSegmentedColormap.from_list('obs', [(0.0, '#f7fbff'), (0.25, '#c3d4ea'), (0.5, '#6fa5d4'),
                                                  (0.75, '#3b6cb0'), (1.0, '#1f3068')])
obs_norm = Normalize(100, 300)


def obs_panel(rect, cbar_rect, rows):
    ax = px_axes(*rect)
    lon_edges = 130 + 0.045 * np.arange(GRID_COLS + 1)
    lat_edges = -11 - (1 / GRID_ROWS) * np.arange(GRID_ROWS + 1)
    ax.pcolormesh(lon_edges, lat_edges, build_grid(rows), cmap=blues, norm=obs_norm, shading='flat')
    for seg in COAST_GRAY:
        pts = np.array(seg)
        ax.plot(pts[:, 0], pts[:, 1], color='#c9c9c6', lw=1.5, solid_joinstyle='miter')
    ax.set_xlim(130 - 0.002, 131.6)
    ax.set_ylim(-12, -11)
    ax.set_xticks(OBS_LON_TICKS, OBS_LON_LABELS)
    ax.set_yticks(OBS_LAT_TICKS, OBS_LAT_LABELS)
    ax.tick_params(direction='out', top=True, right=True, length=6, width=1.3, color='#777777',
                   labelsize=18, labelcolor='#444444', pad=4)
    ax.tick_params(axis='x', pad=8)
    for sp in ax.spines.values():
        sp.set_color('#999999')
        sp.set_linewidth(1.3)
    cax = px_axes(*cbar_rect)
    cb = fig.colorbar(ScalarMappable(norm=obs_norm, cmap=blues), cax=cax, ticks=[100, 150, 200, 250, 300])
    cb.ax.tick_params(length=0, labelsize=18, labelcolor='#444444', pad=5)
    cb.outline.set_edgecolor('#aaaaaa')
    cb.outline.set_linewidth(1.2)


def sim_panel(rect, cbar_rect, outlines):
    ax = px_axes(*rect)
    ax.set_facecolor(SIM_COLORS[300])
    for level, pts in outlines:
        pts = round_off(pts)
        ax.fill(pts[:, 0], pts[:, 1], color=SIM_COLORS[level], lw=0)
    coast = round_off(COAST_DARK, closed=False, passes=1)
    ax.plot(coast[:, 0], coast[:, 1], color='#1c2a42', lw=1.2)
    ax.set_xlim(129.6, 131.6)
    ax.set_ylim(-12, -11)
    ax.set_xticks(SIM_LON_TICKS, SIM_LON_LABELS)
    ax.set_yticks(SIM_LAT_TICKS, SIM_LAT_LABELS)
    ax.tick_params(direction='out', length=5, width=1.2, color='#222222', pad=4)
    for lab in ax.get_xticklabels() + ax.get_yticklabels():
        lab.set_fontfamily(NARROW)
        lab.set_fontsize(16)
        lab.set_color('#2a2a2a')
    for sp in ax.spines.values():
        sp.set_color('#1c2a3a')
        sp.set_linewidth(1.6)
    cax = px_axes(*cbar_rect)
    bounds = [100, 150, 200, 250, 300]
    cmap = ListedColormap([SIM_COLORS[150], SIM_COLORS[200], SIM_COLORS[250], SIM_COLORS[300]])
    cb = fig.colorbar(ScalarMappable(norm=BoundaryNorm(bounds, cmap.N), cmap=cmap), cax=cax, ticks=[100, 150, 200, 250],
                      spacing='uniform')
    cb.ax.tick_params(length=5, width=1.2, color='#222222', pad=3)
    for lab in cb.ax.get_yticklabels():
        lab.set_fontfamily(NARROW)
        lab.set_fontsize(16)
        lab.set_color('#2a2a2a')
    cb.outline.set_edgecolor('#1c2a3a')
    cb.outline.set_linewidth(1.5)


def time_height_panel(rect, cbar_rect, polys, xmax, letter, letter_xy, labels, first_bound, ylabelpad):
    ax = px_axes(*rect)
    for level, pts in polys:
        pts = np.array(pts)
        ax.fill(pts[:, 0], pts[:, 1], color=DBZ_COLORS[level], lw=0)
    ax.set_xlim(0, xmax)
    ax.set_ylim(0, 20)
    ax.set_xticks([t for t in TIME_TICKS if t < xmax], [l for t, l in zip(TIME_TICKS, TIME_LABELS) if t < xmax])
    ax.set_yticks([0, 5, 10, 15, 20])
    ax.set_yticks(np.arange(0, 21), minor=True)
    ax.tick_params(direction='in', length=9, width=1.3, labelsize=18, labelcolor='#222222', pad=9)
    ax.tick_params(axis='y', which='minor', direction='in', length=7, width=1.2)
    ax.set_xlabel('Time (UTC)', fontsize=21, color='#333333', labelpad=5)
    ax.set_ylabel('Height (km)', fontsize=18, color='#333333', labelpad=ylabelpad)
    for sp in ax.spines.values():
        sp.set_linewidth(2)
        sp.set_color('#111111')
    ax.text(letter_xy[0], letter_xy[1], letter, fontsize=25, color='#111111', va='center', ha='left')
    cax = px_axes(*cbar_rect)
    bounds = [first_bound + 5 * i for i in range(len(labels) + 2)]
    keys = [b for b in bounds[:-1]]
    cmap = ListedColormap([DBZ_COLORS[-5] if i == 0 else DBZ_COLORS[k] for i, k in enumerate(keys)])
    cb = fig.colorbar(ScalarMappable(norm=BoundaryNorm(bounds, cmap.N), cmap=cmap), cax=cax, ticks=labels,
                      spacing='uniform')
    cb.ax.tick_params(length=0, labelsize=16, labelcolor='#333333', pad=8)
    cb.outline.set_edgecolor('#999999')
    cb.outline.set_linewidth(1.2)
    return ax


obs_panel((138, 31, 689, 385), (697, 32, 717, 385), OBS_0330)
sim_panel((914, 36, 1442, 379), (1475, 48, 1487, 368), SIM_0330)
obs_panel((124, 547, 680, 898), (689, 547, 707, 898), OBS_0430)
sim_panel((916, 554, 1445, 894), (1478, 566, 1490, 883), SIM_0430)
obs_panel((133, 1067, 694, 1414), (701, 1067, 720, 1414), OBS_0530)
sim_panel((915, 1076, 1442, 1415), (1475, 1087, 1488, 1404), SIM_0530)

red = dict(color='#ff0000', fontsize=27, va='baseline', ha='left')
px_text(143, 75, '(a) 03:30 UTC', **red)
px_text(923, 79, '(b) 03:30 UTC', **red)
px_text(135, 598, '(c) 04:30 UTC', **red)
px_text(932, 595, '(d) 04:30 UTC', **red)
px_text(138, 1108, '(e) 05:30 UTC', **red)
px_text(919, 1108, '(f) 05:30 UTC', **red)

ax_a = time_height_panel((1689, 57, 2130, 557), (2156, 57, 2180, 530), OBS_TH, 12.0, '(a)', (0.95, 18.3),
                         DBZ_LABELS_OBS, 5, 2)
for t, h0, h1 in OBS_TH_STREAKS:
    ax_a.plot([t, t], [h0, h1], color=DBZ_COLORS[10], lw=1.2)
ax_b = time_height_panel((2332, 44, 2774, 543), (2800, 44, 2824, 516), SIM_TH, 9.84, '(b)', (0.5, 18.3),
                         DBZ_LABELS_SIM, -5, 1)
for xs, ys in SIM_DASHES:
    ax_b.plot(xs, ys, color='#3f5a5a', lw=1.8, dashes=(7, 5))

for y, line in zip([741, 830, 921, 1010], CAPTION):
    px_text(1625, y, line, fontsize=53.7, color='#111111', va='baseline', ha='left')

fig.savefig('out.png', dpi=100)
